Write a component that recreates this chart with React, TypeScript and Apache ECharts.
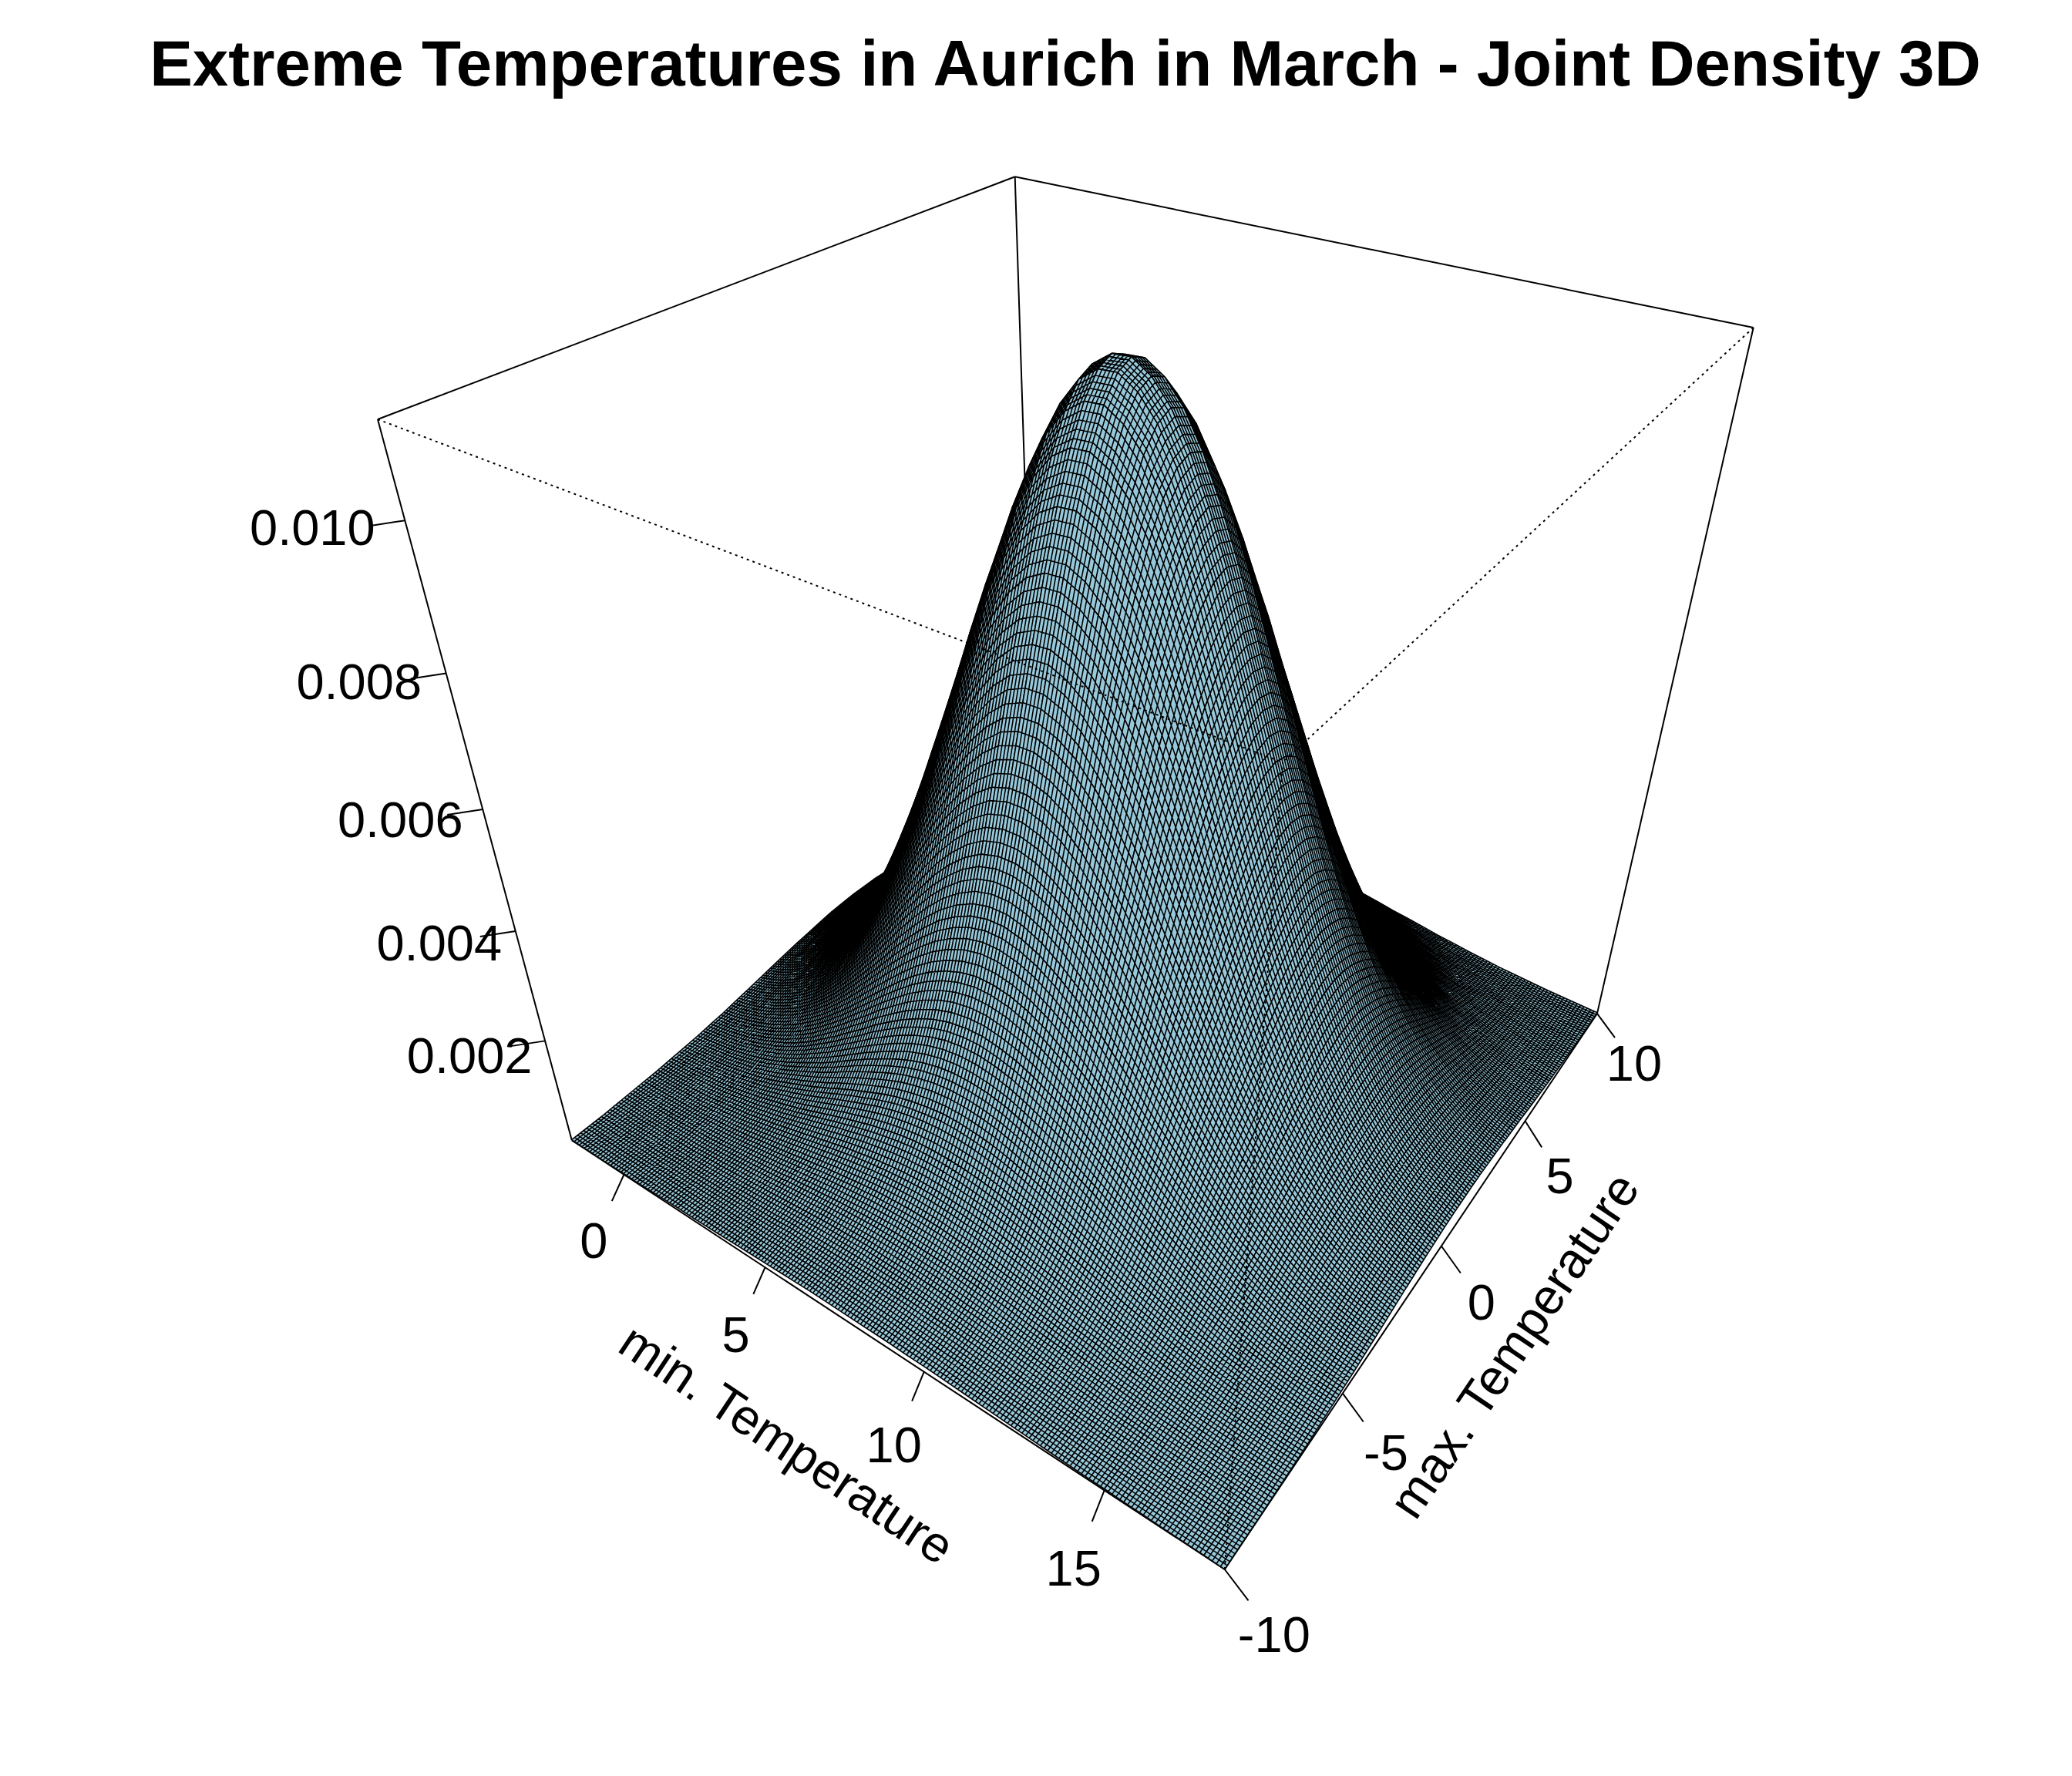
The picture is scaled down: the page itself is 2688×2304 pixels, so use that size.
import React, { useEffect, useRef } from "react";
import * as echarts from "echarts";

const titleText = "Extreme Temperatures in Aurich in March - Joint Density 3D";
const xAxisName = "min. Temperature";
const yAxisName = "max. Temperature";
const xTicks = [0, 5, 10, 15];
const yTicks = [-10, -5, 0, 5, 10];
const zTicks = [0.002, 0.004, 0.006, 0.008, 0.01];
const zTickLabels = ["0.002", "0.004", "0.006", "0.008", "0.010"];
const xMin = -2, xMax = 18, yMin = -10, yMax = 10, zMax = 0.0112;
const STEP = 0.5;
const Z_UNIT = 1e-5;
// density in units of 1e-5: one row per x (-2 .. 18), one column per y (-10 .. 10)
const zTable: number[][] = [
[1,1,1,2,3,4,5,7,9,11,14,17,21,25,29,33,37,41,44,47,50,51,52,51,50,47,44,41,37,33,29,25,21,17,14,11,9,7,5,4,3],
[1,1,2,3,4,5,7,9,12,15,19,23,28,33,39,45,50,56,61,65,68,69,70,69,68,65,61,56,50,45,39,33,28,23,19,15,12,9,7,5,4],
[1,2,2,3,5,7,9,12,16,20,25,31,38,45,52,60,68,75,81,87,91,93,94,93,91,87,81,75,68,60,52,45,38,31,25,20,16,12,9,7,5],
[1,2,3,5,6,9,12,16,21,26,33,41,49,59,69,79,89,98,106,113,119,122,123,122,119,113,106,98,89,79,69,59,49,41,33,26,21,16,12,9,6],
[2,3,4,6,8,11,15,20,27,34,43,53,64,76,89,102,114,127,137,146,153,158,159,158,153,146,137,127,114,102,89,76,64,53,43,34,27,20,15,11,8],
[2,4,5,8,11,14,20,26,34,43,55,67,81,97,113,130,146,162,175,187,196,201,203,201,196,187,175,162,146,130,113,97,81,67,55,43,34,26,20,14,11],
[3,5,7,9,13,18,25,33,42,54,68,84,102,121,142,162,183,202,219,234,245,252,254,252,245,234,219,202,183,162,142,121,102,84,68,54,42,33,25,18,13],
[4,6,8,12,16,22,30,40,52,67,84,104,126,150,175,201,226,250,271,289,303,311,314,311,303,289,271,250,226,201,175,150,126,104,84,67,52,40,30,22,16],
[5,7,10,14,20,27,37,49,64,82,102,126,153,182,213,243,274,303,329,351,367,378,381,378,367,351,329,303,274,243,213,182,153,126,102,82,64,49,37,27,20],
[5,8,12,17,24,33,44,58,76,98,123,151,183,218,254,291,328,363,394,420,440,452,456,452,440,420,394,363,328,291,254,218,183,151,123,98,76,58,44,33,24],
[6,10,14,20,28,38,52,68,89,114,144,177,215,255,299,342,385,426,462,493,516,530,535,530,516,493,462,426,385,342,299,255,215,177,144,114,89,68,52,38,28],
[7,11,16,23,32,44,60,79,103,132,167,205,248,295,345,396,446,493,535,570,597,613,619,613,597,570,535,493,446,396,345,295,248,205,167,132,103,79,60,44,32],
[8,13,18,26,37,50,68,90,118,151,189,233,282,336,393,450,507,560,608,648,679,698,704,698,679,648,608,560,507,450,393,336,282,233,189,151,118,90,68,50,37],
[9,14,20,29,41,56,76,101,132,169,213,261,317,377,441,505,569,629,683,728,762,783,790,783,762,728,683,629,569,505,441,377,317,261,213,169,132,101,76,56,41],
[10,16,23,32,45,62,84,111,145,186,234,288,349,415,486,557,627,693,753,802,840,863,871,863,840,802,753,693,627,557,486,415,349,288,234,186,145,111,84,62,45],
[11,17,24,35,49,67,91,121,158,202,254,313,379,451,527,604,680,752,816,870,911,936,945,936,911,870,816,752,680,604,527,451,379,313,254,202,158,121,91,67,49],
[12,18,26,37,52,72,97,129,169,216,271,334,405,481,563,645,726,803,872,929,973,1000,1009,1000,973,929,872,803,726,645,563,481,405,334,271,216,169,129,97,72,52],
[13,19,27,39,55,76,102,136,177,227,285,351,425,506,592,678,764,845,917,977,1023,1051,1061,1051,1023,977,917,845,764,678,592,506,425,351,285,227,177,136,102,76,55],
[13,20,28,41,57,78,106,141,183,235,295,363,440,524,613,702,791,874,949,1011,1058,1088,1098,1088,1058,1011,949,874,791,702,613,524,440,363,295,235,183,141,106,78,57],
[13,20,29,41,58,80,108,143,187,239,300,370,448,533,623,714,804,889,965,1029,1077,1107,1117,1107,1077,1029,965,889,804,714,623,533,448,370,300,239,187,143,108,80,58],
[13,20,29,41,58,80,108,143,187,239,301,370,449,534,624,715,806,891,967,1031,1079,1109,1119,1109,1079,1031,967,891,806,715,624,534,449,370,301,239,187,143,108,80,58],
[13,20,29,41,57,79,106,141,184,236,296,365,442,526,615,704,793,877,952,1015,1062,1092,1102,1092,1062,1015,952,877,793,704,615,526,442,365,296,236,184,141,106,79,57],
[13,19,28,40,56,76,103,137,179,229,288,354,429,510,597,684,770,852,924,985,1031,1060,1070,1060,1031,985,924,852,770,684,597,510,429,354,288,229,179,137,103,76,56],
[12,18,26,38,53,73,99,131,171,218,275,338,409,487,570,652,735,813,882,940,984,1012,1021,1012,984,940,882,813,735,652,570,487,409,338,275,218,171,131,99,73,53],
[12,17,25,35,50,68,93,123,160,205,258,317,385,457,535,613,690,763,829,883,924,950,959,950,924,883,829,763,690,613,535,457,385,317,258,205,160,123,93,68,50],
[11,16,23,33,46,63,86,114,148,190,239,294,356,423,495,567,639,706,766,817,855,879,887,879,855,817,766,706,639,567,495,423,356,294,239,190,148,114,86,63,46],
[10,14,21,30,42,58,78,103,135,172,217,267,323,384,450,515,580,642,696,742,777,799,806,799,777,742,696,642,580,515,450,384,323,267,217,172,135,103,78,58,42],
[9,13,19,27,37,52,70,92,121,155,194,239,290,344,403,461,520,575,624,665,696,716,722,716,696,665,624,575,520,461,403,344,290,239,194,155,121,92,70,52,37],
[8,11,16,24,33,45,61,81,106,136,171,211,255,303,355,406,458,506,549,586,613,630,636,630,613,586,549,506,458,406,355,303,255,211,171,136,106,81,61,45,33],
[7,10,14,20,29,39,53,71,92,118,148,183,221,263,308,353,397,439,477,508,532,547,552,547,532,508,477,439,397,353,308,263,221,183,148,118,92,71,53,39,29],
[6,8,12,17,24,34,45,60,78,101,126,156,188,224,262,300,338,374,406,433,453,466,470,466,453,433,406,374,338,300,262,224,188,156,126,101,78,60,45,34,24],
[5,7,10,15,21,28,38,51,66,85,106,131,158,188,220,252,284,314,341,364,381,391,395,391,381,364,341,314,284,252,220,188,158,131,106,85,66,51,38,28,21],
[4,6,8,12,17,23,32,42,55,70,88,108,131,156,182,209,235,260,283,301,315,324,327,324,315,301,283,260,235,209,182,156,131,108,88,70,55,42,32,23,17],
[3,5,7,10,14,19,26,34,44,57,71,88,106,126,148,169,191,211,229,244,255,263,265,263,255,244,229,211,191,169,148,126,106,88,71,57,44,34,26,19,14],
[3,4,6,8,11,15,21,27,36,46,57,71,85,102,119,136,153,170,184,196,205,211,213,211,205,196,184,170,153,136,119,102,85,71,57,46,36,27,21,15,11],
[2,3,4,6,9,12,16,22,28,36,45,56,67,80,94,107,121,134,145,155,162,166,168,166,162,155,145,134,121,107,94,80,67,56,45,36,28,22,16,12,9],
[2,2,3,5,7,9,13,17,22,28,35,43,52,62,73,83,94,103,112,120,125,129,130,129,125,120,112,103,94,83,73,62,52,43,35,28,22,17,13,9,7],
[1,2,3,4,5,7,10,13,17,21,27,33,40,47,55,63,71,79,86,91,95,98,99,98,95,91,86,79,71,63,55,47,40,33,27,21,17,13,10,7,5],
[1,1,2,3,4,5,7,9,12,16,20,25,30,35,41,47,53,59,64,68,71,73,74,73,71,68,64,59,53,47,41,35,30,25,20,16,12,9,7,5,4],
[1,1,1,2,3,4,5,7,9,12,15,18,22,26,31,35,40,44,48,51,53,55,55,55,53,51,48,44,40,35,31,26,22,18,15,12,9,7,5,4,3],
[0,1,1,1,2,3,4,5,7,9,11,13,16,19,22,26,29,32,35,37,39,40,40,40,39,37,35,32,29,26,22,19,16,13,11,9,7,5,4,3,2],
];
const N = zTable.length;

const Lt = [490, 544], Ft = [1664, 989], Rt = [2274.7, 425], Bt = [1316.7, 229.3], Fb = [1591.7, 2036], V = [1442, 4080];
const sx = Lt[0] - Ft[0] + Rt[0] - Bt[0], sy = Lt[1] - Ft[1] + Rt[1] - Bt[1];
const dx1 = Ft[0] - Rt[0], dx2 = Bt[0] - Rt[0], dy1 = Ft[1] - Rt[1], dy2 = Bt[1] - Rt[1];
const den = dx1 * dy2 - dx2 * dy1;
const g = (sx * dy2 - dx2 * sy) / den, h = (dx1 * sy - sx * dy1) / den;
const a = Ft[0] - Lt[0] + g * Ft[0], b = Bt[0] - Lt[0] + h * Bt[0], c = Lt[0];
const d = Ft[1] - Lt[1] + g * Ft[1], e = Bt[1] - Lt[1] + h * Bt[1], f = Lt[1];
const tF = [a + c, d + f, g + 1];
const mu = (tF[1] - Fb[1] * tF[2]) / (Fb[1] - V[1]);
function project(x: number, y: number, z: number): number[] {
  const u = (x - xMin) / (xMax - xMin), v = (y - yMin) / (yMax - yMin), w = z / zMax;
  const k = (1 - w) * mu;
  const W = g * u + h * v + 1 + k;
  return [(a * u + b * v + c + k * V[0]) / W, (d * u + e * v + f + k * V[1]) / W];
}

const SUB = 5;
const FONT = "Liberation Sans";

export default function App() {
  const ref = useRef<HTMLDivElement>(null);
  useEffect(() => {
    const chart = echarts.init(ref.current!, undefined, { renderer: "svg" });
    const cells: number[][] = [];
    for (let i = 0; i < N - 1; i++) for (let j = N - 2; j >= 0; j--) cells.push([i, j]);
    const P = (api: any, x: number, y: number, z: number) => { const p = project(x, y, z); return api.coord(p); };
    const seg = (api: any, A: number[], B: number[], lw: number, dash?: number[]) => {
      const p = P(api, A[0], A[1], A[2]), q = P(api, B[0], B[1], B[2]);
      return { type: "line", shape: { x1: p[0], y1: p[1], x2: q[0], y2: q[1] }, style: { stroke: "#000", lineWidth: lw, lineDash: dash } };
    };
    const solid = [
      [[xMin, yMin, zMax], [xMin, yMax, zMax]], [[xMin, yMax, zMax], [xMax, yMax, zMax]],
      [[xMin, yMin, 0], [xMin, yMin, zMax]], [[xMax, yMax, 0], [xMax, yMax, zMax]], [[xMin, yMax, 0], [xMin, yMax, zMax]],
      [[xMin, yMin, 0], [xMax, yMin, 0]], [[xMax, yMin, 0], [xMax, yMax, 0]],
    ];
    const dotted = [
      [[xMin, yMin, zMax], [xMax, yMin, zMax]], [[xMax, yMax, zMax], [xMax, yMin, zMax]], [[xMax, yMin, 0], [xMax, yMin, zMax]],
    ];
    const xOff = [[-39, 86], [-38, 87], [-39, 95], [-40, 101]];
    const yOff = [[64, 84], [56, 77], [52, 73], [45, 71], [48, 65]];
    const zOff = [[-98, 19], [-99, 16], [-107, 14], [-113, 11], [-120, 9]];
    const label = (text: string, x: number, y: number, rotation = 0) => ({
      type: "text", x, y, rotation,
      style: { text, textAlign: "center", textVerticalAlign: "middle", fontSize: 65, fontFamily: FONT, fill: "#000" },
    });
    const line = (x1: number, y1: number, x2: number, y2: number) => ({ type: "line", shape: { x1, y1, x2, y2 }, style: { stroke: "#000", lineWidth: 2 } });
    chart.setOption({
      animation: false,
      title: { text: titleText, left: 1377, top: 77, textAlign: "center", textVerticalAlign: "middle", textStyle: { fontFamily: FONT, fontWeight: "bold", fontSize: 83.5, color: "#000" } },
      grid: { left: 0, right: 0, top: 0, bottom: 0 },
      xAxis: { type: "value", min: 0, max: 2688, show: false },
      yAxis: { type: "value", min: 0, max: 2304, inverse: true, show: false },
      series: [
        { type: "custom", coordinateSystem: "cartesian2d", z: 1, silent: true, data: solid.map((_, i) => [i, 0]), clip: false,
          renderItem: (p: any, api: any) => { const s = solid[p.dataIndex]; return seg(api, s[0], s[1], 2); } },
        { type: "custom", coordinateSystem: "cartesian2d", z: 2, silent: true, progressive: 0, data: cells, clip: false,
          renderItem: (p: any, api: any) => {
            const [i, j] = cells[p.dataIndex];
            const x0 = xMin + i * STEP, x1 = x0 + STEP, y0 = yMin + j * STEP, y1 = y0 + STEP;
            const A = P(api, x0, y0, zTable[i][j] * Z_UNIT), B = P(api, x1, y0, zTable[i + 1][j] * Z_UNIT);
            const C = P(api, x1, y1, zTable[i + 1][j + 1] * Z_UNIT), D = P(api, x0, y1, zTable[i][j + 1] * Z_UNIT);
            let path = "";
            const mix = (p1: number[], p2: number[], t: number) => [p1[0] + (p2[0] - p1[0]) * t, p1[1] + (p2[1] - p1[1]) * t];
            for (let k = 0; k <= SUB; k++) {
              const t = k / SUB;
              const s1 = mix(A, B, t), s2 = mix(D, C, t), s3 = mix(A, D, t), s4 = mix(B, C, t);
              path += `M${s1[0].toFixed(1)} ${s1[1].toFixed(1)}L${s2[0].toFixed(1)} ${s2[1].toFixed(1)}`;
              path += `M${s3[0].toFixed(1)} ${s3[1].toFixed(1)}L${s4[0].toFixed(1)} ${s4[1].toFixed(1)}`;
            }
            return { type: "group", children: [
              { type: "polygon", shape: { points: [A, B, C, D] }, style: { fill: "#98c9db", stroke: "none" } },
              { type: "path", shape: { pathData: path }, style: { fill: "none", stroke: "#000", lineWidth: 1.6 } },
            ] };
          } },
        { type: "custom", coordinateSystem: "cartesian2d", z: 3, silent: true, data: dotted.map((_, i) => [i, 0]), clip: false,
          renderItem: (p: any, api: any) => { const s = dotted[p.dataIndex]; return seg(api, s[0], s[1], 2, [3, 5]); } },
        { type: "custom", coordinateSystem: "cartesian2d", z: 4, silent: true, data: [[0, 0]], clip: false,
          renderItem: (_p: any, api: any) => {
            const kids: any[] = [];
            xTicks.forEach((t, k) => { const q = P(api, t, yMin, 0); const o = xOff[k]; kids.push(line(q[0], q[1], q[0] + o[0] * 0.4, q[1] + o[1] * 0.4)); kids.push(label(String(t), q[0] + o[0], q[1] + o[1])); });
            yTicks.forEach((t, k) => { const q = P(api, xMax, t, 0); const o = yOff[k]; kids.push(line(q[0], q[1], q[0] + o[0] * 0.48, q[1] + o[1] * 0.48)); kids.push(label(String(t), q[0] + o[0], q[1] + o[1])); });
            zTicks.forEach((t, k) => { const q = P(api, xMin, yMin, t); const o = zOff[k]; kids.push(line(q[0], q[1], q[0] - 46, q[1] + 7)); kids.push(label(zTickLabels[k], q[0] + o[0], q[1] + o[1])); });
            const xt = api.coord([1021, 1873]), yt = api.coord([1964, 1745]);
            kids.push(label(xAxisName, xt[0], xt[1], -0.588));
            kids.push(label(yAxisName, yt[0], yt[1], 0.977));
            return { type: "group", children: kids };
          } },
      ],
    });
    return () => chart.dispose();
  }, []);
  return <div ref={ref} style={{ position: "absolute", left: 0, top: 0, width: 2688, height: 2304 }} />;
}
